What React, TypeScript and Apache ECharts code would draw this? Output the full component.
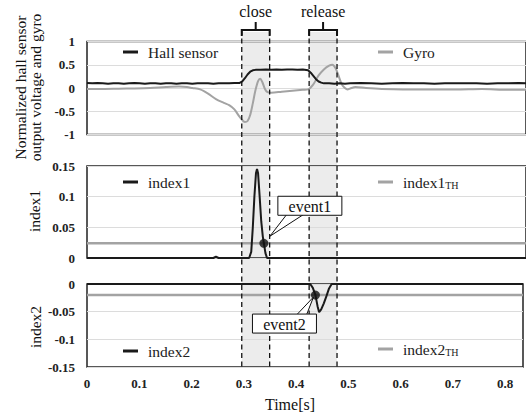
import React, { useEffect, useRef } from 'react';
import * as echarts from 'echarts';

const FONT = 'Liberation Serif';
const X_MAX = 0.834;

const hallSensor: [number, number][] = [
  [0, 0.11], [0.01, 0.10], [0.02, 0.11], [0.03, 0.10], [0.04, 0.09], [0.05, 0.10], [0.06, 0.10], [0.07, 0.09],
  [0.08, 0.10], [0.09, 0.11], [0.10, 0.10], [0.11, 0.09], [0.12, 0.10], [0.13, 0.10], [0.14, 0.09], [0.15, 0.10],
  [0.16, 0.10], [0.17, 0.09], [0.18, 0.10], [0.19, 0.10], [0.20, 0.09], [0.21, 0.10], [0.22, 0.10], [0.23, 0.10],
  [0.24, 0.09], [0.25, 0.10], [0.26, 0.10], [0.27, 0.10], [0.28, 0.11], [0.29, 0.11], [0.295, 0.14], [0.30, 0.21],
  [0.305, 0.29], [0.31, 0.35], [0.315, 0.38], [0.32, 0.39], [0.33, 0.39], [0.34, 0.40], [0.35, 0.39], [0.36, 0.40],
  [0.37, 0.39], [0.38, 0.40], [0.39, 0.40], [0.40, 0.39], [0.41, 0.40], [0.42, 0.38], [0.425, 0.33], [0.43, 0.26],
  [0.435, 0.19], [0.44, 0.14], [0.445, 0.115], [0.45, 0.10], [0.46, 0.10], [0.47, 0.09], [0.48, 0.10], [0.49, 0.09],
  [0.50, 0.10], [0.52, 0.11], [0.54, 0.10], [0.56, 0.09], [0.58, 0.10], [0.60, 0.11], [0.62, 0.10], [0.64, 0.10],
  [0.66, 0.09], [0.68, 0.10], [0.70, 0.10], [0.72, 0.10], [0.74, 0.10], [0.76, 0.09], [0.78, 0.10], [0.80, 0.10],
  [0.82, 0.11], [0.834, 0.10],
];

const gyro: [number, number][] = [
  [0, -0.02], [0.03, -0.02], [0.06, -0.015], [0.09, -0.01], [0.12, 0.0], [0.15, 0.02], [0.175, 0.03], [0.19, 0.02],
  [0.20, 0.0], [0.215, -0.03], [0.23, -0.12], [0.245, -0.24], [0.26, -0.32], [0.27, -0.37], [0.28, -0.46],
  [0.29, -0.62], [0.30, -0.73], [0.305, -0.71], [0.31, -0.58], [0.315, -0.33], [0.32, -0.05], [0.325, 0.15],
  [0.329, 0.2], [0.333, 0.13], [0.338, -0.02], [0.343, -0.09], [0.35, -0.1], [0.37, -0.08], [0.39, -0.06],
  [0.41, -0.04], [0.42, -0.03], [0.43, 0.08], [0.44, 0.27], [0.45, 0.4], [0.46, 0.48], [0.466, 0.5], [0.472, 0.43],
  [0.478, 0.26], [0.484, 0.08], [0.49, 0.0], [0.495, -0.03], [0.50, -0.01], [0.51, 0.02], [0.53, 0.0], [0.56, -0.02],
  [0.60, -0.03], [0.65, -0.03], [0.70, -0.03], [0.75, -0.02], [0.80, -0.04], [0.834, -0.04],
];

const index1: [number, number][] = [
  [0, 0], [0.24, 0], [0.245, 0.002], [0.25, 0], [0.308, 0], [0.312, 0.01], [0.315, 0.05], [0.318, 0.1],
  [0.321, 0.138], [0.323, 0.145], [0.325, 0.138], [0.328, 0.1], [0.331, 0.06], [0.334, 0.035], [0.336, 0.024],
  [0.339, 0.008], [0.342, 0], [0.834, 0],
];

const index2: [number, number][] = [
  [0, 0], [0.427, 0], [0.432, -0.007], [0.437, -0.02], [0.441, -0.04], [0.444, -0.051], [0.448, -0.046],
  [0.453, -0.035], [0.458, -0.022], [0.463, -0.008], [0.468, 0], [0.834, 0],
];

const index1TH: [number, number][] = [[0, 0.024], [0.834, 0.024]];
const index2TH: [number, number][] = [[0, -0.02], [0.834, -0.02]];
const event1: [number, number] = [0.336, 0.024];
const event2: [number, number] = [0.437, -0.02];
const closeRange = [0.294, 0.347];
const releaseRange = [0.422, 0.475];

const panelNames = ['Normalized hall sensor', 'output voltage and gyro', 'index1', 'index2'];

const BLACK = '#1a1a1a';
const GRAY = '#a3a3a3';

function buildOption() {
  const grids = [
    { top: 41.5, height: 93 },
    { top: 166, height: 92 },
    { top: 284, height: 83 },
  ].map((g) => ({
    left: 87, right: -2, top: g.top, height: g.height, show: true,
    borderColor: '#222', borderWidth: 1.5, backgroundColor: 'transparent',
  }));

  const xAxis = [0, 1, 2].map((i) => ({
    gridIndex: i, type: 'value', min: 0, max: X_MAX, interval: 0.1,
    axisLine: { show: false }, axisTick: { show: false }, splitLine: { show: false },
    axisLabel: i === 2
      ? {
          show: true, margin: 10, color: '#222', fontFamily: FONT, fontSize: 13, fontWeight: 'bold',
          formatter: (v: number) => (Math.abs(v * 10 - Math.round(v * 10)) < 1e-6 ? String(+v.toFixed(1)) : ''),
        }
      : { show: false },
  }));

  const yBase = {
    type: 'value', axisLine: { show: false }, axisTick: { show: false },
    splitLine: { show: true, lineStyle: { color: '#dcdcdc', width: 1 } },
    axisLabel: { margin: 12, color: '#222', fontFamily: FONT, fontSize: 13, fontWeight: 'bold' },
  };
  const yAxis = [
    { ...yBase, gridIndex: 0, min: -1, max: 1, interval: 0.5 },
    { ...yBase, gridIndex: 1, min: 0, max: 0.15, interval: 0.05 },
    { ...yBase, gridIndex: 2, min: -0.15, max: 0, interval: 0.05 },
  ];

  const legendBase = {
    icon: 'rect', itemWidth: 15, itemHeight: 3, padding: 0, selectedMode: false,
    formatter: (name: string) => (name.endsWith('_TH') ? `${name.replace('_TH', '')}{s|TH}` : name),
    textStyle: {
      fontFamily: FONT, fontSize: 15.5, color: '#222', padding: [0, 0, 0, 5],
      rich: { s: { fontFamily: FONT, fontSize: 10, color: '#222', verticalAlign: 'bottom', padding: [6, 0, 0, 0] } },
    },
  };
  const legend = [
    { ...legendBase, data: ['Hall sensor'], left: 123, top: 44 },
    { ...legendBase, data: ['Gyro'], left: 378, top: 44 },
    { ...legendBase, data: ['index1'], left: 123, top: 174 },
    { ...legendBase, data: ['index1_TH'], left: 378, top: 174 },
    { ...legendBase, data: ['index2'], left: 123, top: 343 },
    { ...legendBase, data: ['index2_TH'], left: 378, top: 341 },
  ];

  const line = (name: string, data: [number, number][], idx: number, color: string, width: number, z: number, smooth: any = false) => ({
    name, type: 'line', xAxisIndex: idx, yAxisIndex: idx, data, color,
    showSymbol: false, symbol: 'none', smooth, z,
    lineStyle: { color, width }, emphasis: { disabled: true },
  });

  const series: any[] = [
    line('Gyro', gyro, 0, GRAY, 2, 2, 0.3),
    line('Hall sensor', hallSensor, 0, BLACK, 2, 3),
    line('index1_TH', index1TH, 1, GRAY, 2.5, 2),
    line('index1', index1, 1, BLACK, 2, 3),
    line('index2_TH', index2TH, 2, GRAY, 2.5, 2),
    line('index2', index2, 2, BLACK, 2, 3),
    {
      name: 'event1', type: 'scatter', xAxisIndex: 1, yAxisIndex: 1, data: [event1],
      symbolSize: 9, itemStyle: { color: '#111' }, z: 5,
    },
    {
      name: 'event2', type: 'scatter', xAxisIndex: 2, yAxisIndex: 2, data: [event2],
      symbolSize: 9, itemStyle: { color: '#111' }, z: 5,
    },
  ];

  return { animation: false, backgroundColor: '#fff', grid: grids, xAxis, yAxis, legend, series };
}

export default function App() {
  const ref = useRef<HTMLDivElement>(null);
  useEffect(() => {
    if (!ref.current) return;
    const chart = echarts.init(ref.current, undefined, { renderer: 'svg' });
    chart.setOption(buildOption() as any);

    const px = (t: number) => chart.convertToPixel({ xAxisIndex: 0 }, t) as number;
    const graphics: any[] = [];
    const topY = 30;
    const botY = 367;
    const textStyle = (text: string, size: number) => ({
      text, fontFamily: FONT, fontSize: size, fill: '#111',
      align: 'center', verticalAlign: 'middle', textAlign: 'center', textVerticalAlign: 'middle',
    });

    const ranges = [
      { r: closeRange, label: 'close' },
      { r: releaseRange, label: 'release' },
    ];
    ranges.forEach(({ r, label }) => {
      const x0 = px(r[0]);
      const x1 = px(r[1]);
      const xc = (x0 + x1) / 2;
      graphics.push({ type: 'rect', z: -10, silent: true, shape: { x: x0, y: topY + 2, width: x1 - x0, height: botY - topY - 2 }, style: { fill: '#ececec' } });
      [x0, x1].forEach((x) => graphics.push({
        type: 'line', z: 20, silent: true, shape: { x1: x, y1: topY, x2: x, y2: botY + 2 },
        style: { stroke: '#111', lineWidth: 1.3, lineDash: [5, 3.5] },
      }));
      graphics.push({
        type: 'polyline', z: 20, silent: true,
        shape: { points: [[x0, topY + 6], [x0, topY], [x1, topY], [x1, topY + 6]] },
        style: { stroke: '#111', lineWidth: 2, fill: null },
      });
      graphics.push({ type: 'line', z: 20, silent: true, shape: { x1: xc, y1: topY, x2: xc, y2: topY - 8 }, style: { stroke: '#111', lineWidth: 2 } });
      graphics.push({ type: 'text', z: 20, silent: true, x: xc, y: 11, style: textStyle(label, 16) });
    });

    // Event callouts
    const e1 = chart.convertToPixel({ xAxisIndex: 1, yAxisIndex: 1 }, event1) as number[];
    const e2 = chart.convertToPixel({ xAxisIndex: 2, yAxisIndex: 2 }, event2) as number[];
    const callout = (text: string, bx: number, by: number, base: number[][], tip: number[]) => {
      graphics.push({
        type: 'polygon', z: 21, silent: true,
        shape: { points: [base[0], tip, base[1]] },
        style: { fill: '#fff', stroke: '#111', lineWidth: 1 },
      });
      graphics.push({
        type: 'rect', z: 22, silent: true, shape: { x: bx, y: by, width: 64, height: 19 },
        style: { fill: '#fff', stroke: '#111', lineWidth: 1 },
      });
      graphics.push({ type: 'text', z: 23, silent: true, x: bx + 32, y: by + 10, style: textStyle(text, 16) });
    };
    {
      const bx = e1[0] + 14;
      const by = e1[1] - 47;
      callout('event1', bx, by, [[e1[0] + 23, by + 18], [e1[0] + 40, by + 18]], [e1[0] + 6, e1[1] - 7]);
    }
    {
      const bx = e2[0] - 63;
      const by = e2[1] + 19;
      callout('event2', bx, by, [[e2[0] - 19, by + 1], [e2[0] - 9, by + 1]], [e2[0] - 2, e2[1] + 2]);
    }

    // Axis names (rotated) and x-axis title
    const vText = (text: string, x: number, y: number) => ({
      type: 'text', silent: true, x, y, rotation: Math.PI / 2, style: textStyle(text, 15.5),
    });
    graphics.push(vText(panelNames[0], 20, 87.5));
    graphics.push(vText(panelNames[1], 35, 87.5));
    graphics.push(vText(panelNames[2], 34, 211));
    graphics.push(vText(panelNames[3], 35, 327));
    graphics.push({ type: 'text', silent: true, x: 290, y: 404, style: textStyle('Time[s]', 16) });

    chart.setOption({ graphic: graphics } as any);
    return () => chart.dispose();
  }, []);
  return <div ref={ref} style={{ position: 'absolute', left: 0, top: 0, width: 526, height: 416 }} />;
}
